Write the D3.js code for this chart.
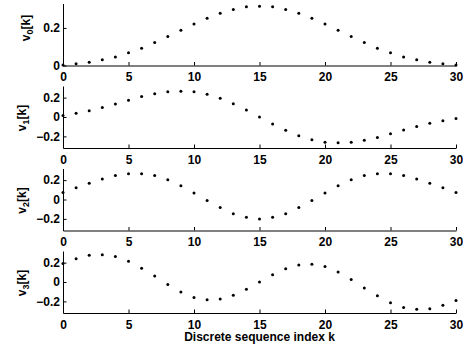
<!DOCTYPE html>
<html>
<head>
<meta charset="utf-8">
<script src="https://cdn.jsdelivr.net/npm/d3@7"></script>
<style>
  body { margin: 0; background: #fff; }
  svg text { font-family: "Liberation Sans", Arial, Helvetica, sans-serif; font-weight: 700; fill: #000; }
  .tick text { font-size: 12px; }
  .tick line, .domain { stroke: #000; }
</style>
</head>
<body>
<svg id="chart" width="463" height="349"></svg>
<script>
// sequence index and the four sequences v0..v3
var k = d3.range(0, 31);

var v0 = [0.003, 0.009, 0.017, 0.030, 0.045, 0.068, 0.092, 0.122, 0.155, 0.188,
  0.221, 0.252, 0.278, 0.298, 0.313, 0.315, 0.313, 0.298, 0.278, 0.252,
  0.221, 0.188, 0.155, 0.122, 0.092, 0.068, 0.045, 0.030, 0.017, 0.009, 0.003];

var v1 = [0.015, 0.038, 0.064, 0.098, 0.133, 0.172, 0.212, 0.241, 0.260, 0.267,
  0.260, 0.235, 0.194, 0.137, 0.071, 0.000, -0.071, -0.137, -0.194, -0.235,
  -0.260, -0.267, -0.260, -0.241, -0.212, -0.172, -0.133, -0.098, -0.064, -0.038, -0.015];

var v2 = [0.073, 0.122, 0.167, 0.212, 0.247, 0.267, 0.267, 0.247, 0.205, 0.142,
  0.066, -0.010, -0.083, -0.146, -0.184, -0.201, -0.184, -0.146, -0.083, -0.010,
  0.066, 0.142, 0.205, 0.247, 0.267, 0.267, 0.247, 0.212, 0.167, 0.122, 0.073];

var v3 = [0.190, 0.240, 0.276, 0.282, 0.263, 0.213, 0.143, 0.062, -0.026, -0.104,
  -0.159, -0.184, -0.175, -0.137, -0.076, 0.000, 0.076, 0.137, 0.175, 0.184,
  0.159, 0.104, 0.026, -0.062, -0.143, -0.213, -0.263, -0.282, -0.276, -0.240, -0.190];

var series = [v0, v1, v2, v3];
var yDomains = [[0, 0.33], [-0.32, 0.32], [-0.32, 0.32], [-0.32, 0.32]];
var yTicks = [[0, 0.2], [-0.2, 0, 0.2], [-0.2, 0, 0.2], [-0.2, 0, 0.2]];
var xTicks = [0, 5, 10, 15, 20, 25, 30];
var xLabel = "Discrete sequence index k";

var svg = d3.select("#chart");

var left = 63, right = 456;
var panelTop = 3.5, panelStep = 82.5, panelH = 62;

var x = d3.scaleLinear().domain([0, 30]).range([left, right]);

series.forEach(function (vals, i) {
  var top = panelTop + i * panelStep;
  var y = d3.scaleLinear().domain(yDomains[i]).range([top + panelH, top]);
  var g = svg.append("g");

  g.append("g")
    .attr("transform", "translate(0," + (top + panelH) + ")")
    .call(d3.axisBottom(x).tickValues(xTicks).tickSizeInner(-3.5).tickSizeOuter(0).tickPadding(7))
    .attr("font-family", null).attr("font-size", null);

  g.append("g")
    .attr("transform", "translate(" + left + ",0)")
    .call(d3.axisLeft(y).tickValues(yTicks[i]).tickSizeInner(-3.5).tickSizeOuter(0).tickPadding(3)
      .tickFormat(function (d) { return d === 0 ? "0" : d3.format(".1f")(d); }))
    .attr("font-family", null).attr("font-size", null);

  g.selectAll("circle")
    .data(vals)
    .enter()
    .append("circle")
    .attr("cx", function (d, j) { return x(k[j]); })
    .attr("cy", function (d) { return y(d); })
    .attr("r", 1.5)
    .attr("fill", "#000");

  // rotated y label with subscript index
  var lx = i === 0 ? 30 : 26;
  var ly = i === 0 ? 28 : top + panelH / 2 + 1;
  var t = g.append("text")
    .attr("transform", "translate(" + lx + "," + ly + ") rotate(-90)")
    .attr("text-anchor", "middle")
    .attr("font-size", 12);
  t.append("tspan").text("v");
  t.append("tspan").attr("font-size", 9).attr("dy", 3).text(i);
  t.append("tspan").attr("dy", -3).text("[k]");
});

svg.append("text")
  .attr("x", (left + right) / 2)
  .attr("y", 341)
  .attr("text-anchor", "middle")
  .attr("font-size", 12)
  .text(xLabel);
</script>
</body>
</html>
